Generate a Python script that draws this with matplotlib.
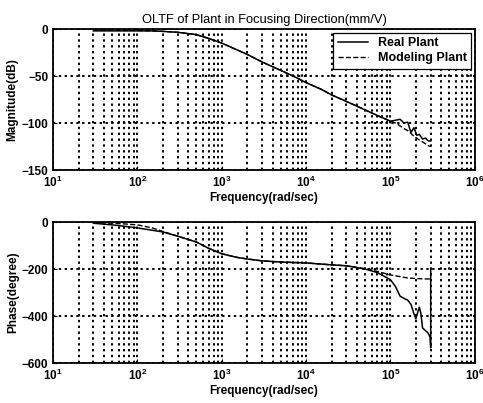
import numpy as np
from matplotlib import pyplot as plt
from matplotlib.ticker import LogLocator, NullFormatter

plt.rcParams['font.family'] = ['Liberation Sans', 'DejaVu Sans']

# Magnitude data (rad/sec, dB)
w_mag = [30, 50, 70, 100, 150, 200, 300, 500, 700, 1000, 1500, 2000, 3000,
         5000, 7000, 1e4, 1.5e4, 2e4, 3e4, 5e4, 7e4, 1e5, 1.15e5, 1.3e5,
         1.45e5, 1.6e5, 1.75e5, 1.9e5, 2.05e5, 2.2e5, 2.4e5, 2.6e5, 2.8e5, 3e5]
mag_real = [-2, -2, -2, -2, -2, -2.5, -3.5, -6, -10, -15, -22, -27, -35,
            -44, -50, -57, -64, -70, -77, -86, -92, -98, -97, -96,
            -100, -99, -110, -105, -113, -112, -117, -116, -119, -119]
mag_model = [-1, -1, -1.5, -1.5, -2, -2.5, -3.5, -6, -10, -15, -22, -27, -35,
             -44, -50, -57, -64, -70, -77, -86, -92, -98, -100, -103,
             -106, -108, -111, -114, -116, -118, -120, -122, -124, -125]

# Phase data (rad/sec, degree)
w_ph = [30, 50, 70, 100, 150, 200, 300, 500, 700, 1000, 1500, 2000, 3000,
        5000, 1e4, 2e4, 3e4, 5e4, 7e4, 1e5, 1.15e5, 1.3e5, 1.45e5, 1.6e5,
        1.75e5, 1.9e5, 2e5, 2.1e5, 2.2e5, 2.3e5, 2.4e5, 2.6e5, 2.8e5, 2.95e5,
        3e5, 3e5]
ph_real = [-5, -12, -18, -25, -35, -42, -60, -85, -112, -135, -150, -157,
           -165, -170, -174, -182, -186, -200, -215, -245, -275, -315, -325,
           -332, -350, -390, -412, -385, -362, -390, -450, -462, -472, -490,
           -535, -200]
w_ph_model = [30, 50, 70, 100, 150, 200, 300, 500, 700, 1000, 1500, 2000,
              3000, 5000, 1e4, 2e4, 3e4, 5e4, 7e4, 1e5, 1.3e5, 1.6e5, 2e5,
              2.5e5, 3e5]
ph_model = [-3, -5, -8, -12, -25, -40, -60, -85, -112, -135, -150, -157,
            -165, -170, -174, -182, -186, -198, -210, -225, -232, -238, -240,
            -242, -242]

fig = plt.figure(figsize=(4.83, 4.03), dpi=100)
ax1 = fig.add_axes([0.110, 0.578, 0.873, 0.350])
ax2 = fig.add_axes([0.110, 0.099, 0.873, 0.350])

def style(ax):
    ax.set_xscale('log')
    ax.set_xlim(10, 1e6)
    ax.xaxis.set_major_locator(LogLocator(base=10, numticks=10))
    ax.xaxis.set_minor_locator(LogLocator(base=10, subs=np.arange(2, 10), numticks=10))
    ax.xaxis.set_minor_formatter(NullFormatter())
    ax.grid(True, which='major', axis='both', color='k', linestyle=(0, (1.2, 1.8)), linewidth=1.4)
    ax.grid(True, which='minor', axis='x', color='k', linestyle=(0, (1.2, 1.8)), linewidth=1.4)
    ax.tick_params(which='both', direction='in', labelsize=8.5, length=3)
    ax.tick_params(which='minor', length=0)
    for s in ax.spines.values():
        s.set_linewidth(1.3)

ax1.plot(w_mag, mag_real, 'k-', linewidth=1.1, label='Real Plant')
ax1.plot(w_mag, mag_model, 'k--', linewidth=1.0, label='Modeling Plant')
style(ax1)
ax1.set_ylim(-150, 0)
ax1.set_yticks([0, -50, -100, -150])
ax1.set_title('OLTF of Plant in Focusing Direction(mm/V)', fontsize=9.3, pad=4)
ax1.set_ylabel('Magnitude(dB)', fontsize=8.5, fontweight='bold', labelpad=2)
ax1.set_xlabel('Frequency(rad/sec)', fontsize=8.5, fontweight='bold', labelpad=1)
leg = ax1.legend(loc='upper right', prop={'size': 9, 'weight': 'bold'}, frameon=True,
                 fancybox=False, edgecolor='k', framealpha=1, borderpad=0.35,
                 handlelength=2.4, labelspacing=0.25, borderaxespad=0.3)
leg.get_frame().set_linewidth(0.9)

ax2.plot(w_ph, ph_real, 'k-', linewidth=1.1)
ax2.plot(w_ph_model, ph_model, 'k--', linewidth=1.0)
style(ax2)
ax2.set_ylim(-600, 0)
ax2.set_yticks([0, -200, -400, -600])
ax2.set_ylabel('Phase(degree)', fontsize=8.5, fontweight='bold', labelpad=2)
ax2.set_xlabel('Frequency(rad/sec)', fontsize=8.5, fontweight='bold', labelpad=1)

for ax in (ax1, ax2):
    for lab in ax.get_xticklabels() + ax.get_yticklabels():
        lab.set_fontweight('bold')

plt.savefig('out.png', dpi=100)
